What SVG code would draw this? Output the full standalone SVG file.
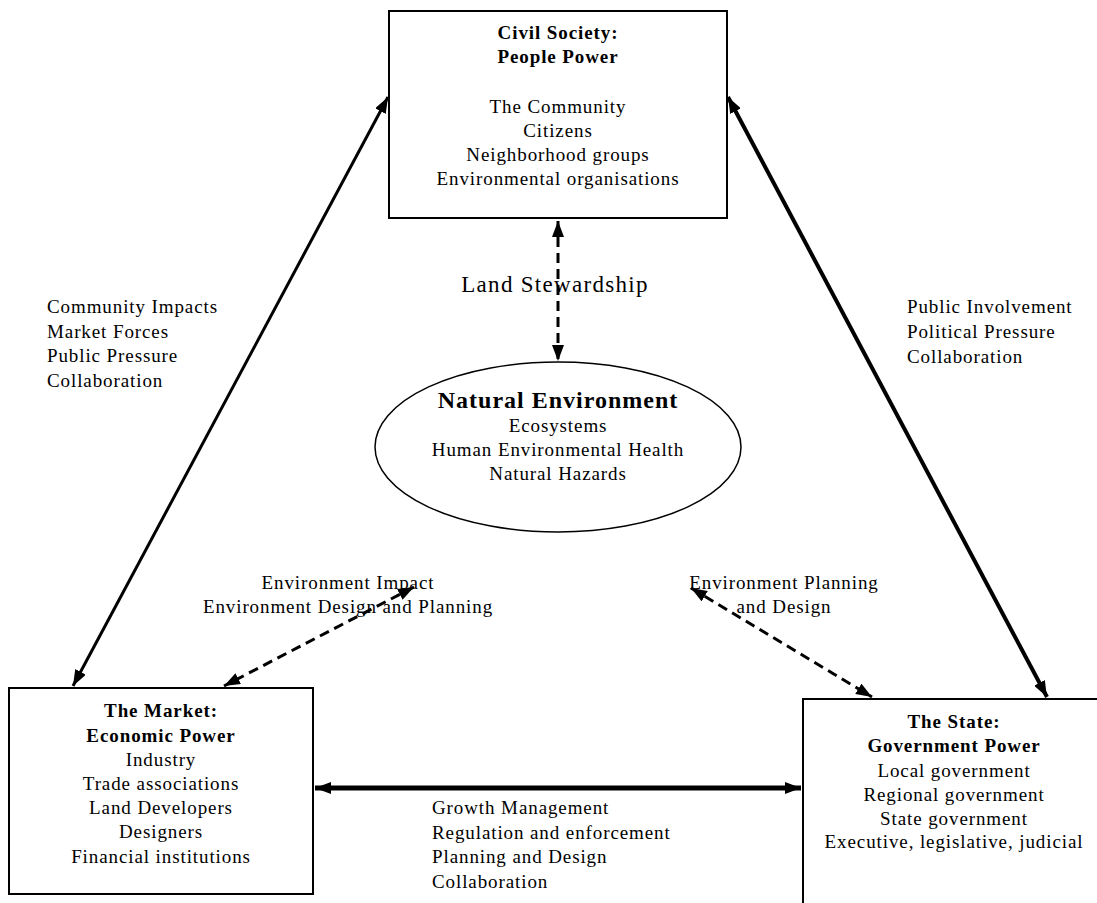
<svg xmlns="http://www.w3.org/2000/svg" width="1097" height="903" viewBox="0 0 1097 903">
<style>
text{font-family:"Liberation Serif","Times New Roman",serif;fill:#000;font-size:19px;letter-spacing:0.9px}
.c{text-anchor:middle}
.b{font-weight:bold}
.t{font-size:24px;letter-spacing:1px}
.ls{font-size:23px;letter-spacing:1.3px}
.box{fill:#fff;stroke:#000;stroke-width:2}
.solid{fill:none;stroke:#000;stroke-width:3}
.dash{fill:none;stroke:#000;stroke-width:3;stroke-dasharray:10 6}
</style>
<defs>
<marker id="ah" viewBox="0 0 16 12" refX="16" refY="6" markerWidth="16" markerHeight="12" markerUnits="userSpaceOnUse" orient="auto-start-reverse">
<path d="M0,0 L16,6 L0,12 z" fill="#000"/>
</marker>
</defs>
<rect width="1097" height="903" fill="#fff"/>
<g id="connectors">
<line class="solid" x1="388" y1="97" x2="73" y2="686" marker-start="url(#ah)" marker-end="url(#ah)"/>
<line class="solid" x1="728" y1="97" x2="1047" y2="697" style="stroke-width:4" marker-start="url(#ah)" marker-end="url(#ah)"/>
<line class="solid" x1="315" y1="788" x2="801" y2="788" style="stroke-width:5" marker-start="url(#ah)" marker-end="url(#ah)"/>
<line class="dash" x1="558" y1="221" x2="558" y2="361" marker-start="url(#ah)" marker-end="url(#ah)"/>
<line class="dash" x1="414" y1="587" x2="224" y2="686" marker-start="url(#ah)" marker-end="url(#ah)"/>
<line class="dash" x1="691" y1="588" x2="872" y2="697" marker-start="url(#ah)" marker-end="url(#ah)"/>
</g>
<g id="civil-society">
<rect class="box" x="389" y="11" width="338" height="207"/>
<text class="c b" x="558" y="39">Civil Society:</text>
<text class="c b" x="558" y="63">People Power</text>
<text class="c" x="558" y="113">The Community</text>
<text class="c" x="558" y="137">Citizens</text>
<text class="c" x="558" y="161">Neighborhood groups</text>
<text class="c" x="558" y="185">Environmental organisations</text>
</g>
<g id="natural-environment">
<ellipse cx="558" cy="447" rx="183" ry="85" fill="#fff" stroke="#000" stroke-width="1.5"/>
<text class="c b t" x="558" y="408">Natural Environment</text>
<text class="c" x="558" y="432">Ecosystems</text>
<text class="c" x="558" y="456">Human Environmental Health</text>
<text class="c" x="558" y="480">Natural Hazards</text>
</g>
<g id="market">
<rect class="box" x="9" y="688" width="304" height="206"/>
<text class="c b" x="161" y="717">The Market:</text>
<text class="c b" x="161" y="742">Economic Power</text>
<text class="c" x="161" y="766">Industry</text>
<text class="c" x="161" y="790">Trade associations</text>
<text class="c" x="161" y="814">Land Developers</text>
<text class="c" x="161" y="838">Designers</text>
<text class="c" x="161" y="863">Financial institutions</text>
</g>
<g id="state">
<rect class="box" x="803" y="699" width="304" height="220"/>
<text class="c b" x="954" y="728">The State:</text>
<text class="c b" x="954" y="752">Government Power</text>
<text class="c" x="954" y="777">Local government</text>
<text class="c" x="954" y="801">Regional government</text>
<text class="c" x="954" y="825">State government</text>
<text class="c" x="954" y="848">Executive, legislative, judicial</text>
</g>
<g id="labels">
<text class="c ls" x="555" y="292">Land Stewardship</text>
<text x="47" y="313">Community Impacts</text>
<text x="47" y="338">Market Forces</text>
<text x="47" y="362">Public Pressure</text>
<text x="47" y="387">Collaboration</text>
<text x="907" y="313">Public Involvement</text>
<text x="907" y="338">Political Pressure</text>
<text x="907" y="363">Collaboration</text>
<text class="c" x="348" y="589">Environment Impact</text>
<text class="c" x="348" y="613">Environment Design and Planning</text>
<text class="c" x="784" y="589">Environment Planning</text>
<text class="c" x="784" y="613">and Design</text>
<text x="432" y="814">Growth Management</text>
<text x="432" y="839">Regulation and enforcement</text>
<text x="432" y="863">Planning and Design</text>
<text x="432" y="888">Collaboration</text>
</g>
</svg>
